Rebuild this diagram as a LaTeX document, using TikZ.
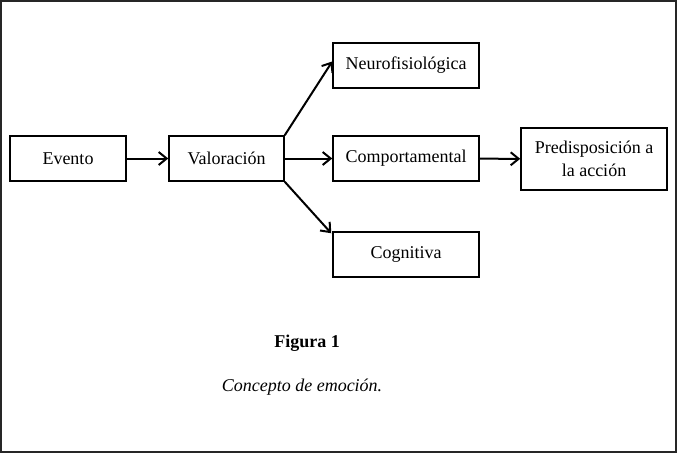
\documentclass[tikz,border=0pt]{standalone}
\usepackage{fontspec}
\setmainfont{Liberation Serif}
\usetikzlibrary{arrows.meta}

\tikzset{
  caja/.style={draw, line width=1.5pt, minimum height=45pt, inner sep=2pt},
  flecha/.style={line width=2pt, -{Straight Barb[length=8pt,width=13pt]}}
}

\begin{document}
\begin{tikzpicture}[x=1pt, y=-1pt, font=\fontsize{18}{23}\selectfont]

  % Marco exterior
  \useasboundingbox (0,0) rectangle (677,453);
  \draw[line width=1.5pt, black!85] (1,1) rectangle (676,452);

  % --- Cajas ---
  \node[caja, minimum width=116pt] (evento) at (68,158.5) {Evento};
  \node[caja, minimum width=115pt] (valor) at (226.5,158.5) {Valoración};
  \node[caja, minimum width=146pt] (neuro) at (406,65.5) {Neurofisiológica};
  \node[caja, minimum width=146pt] (comport) at (406,158.5) {Comportamental};
  \node[caja, minimum width=146pt] (cogn) at (406,254.5) {Cognitiva};
  \node[caja, minimum width=146pt, minimum height=62pt, align=center]
    (predis) at (594,159) {Predisposición a\\la acción};

  % --- Flechas ---
  \draw[flecha] (evento) -- (valor);
  \draw[flecha] (valor) -- (comport);
  \draw[flecha] (valor.north east) -- ([yshift=4pt]neuro.west);
  \draw[flecha] (valor.south east) -- ([shift={(-1pt,-2pt)}]cogn.north west);
  \draw[flecha] (comport) -- (predis);

  % --- Leyenda ---
  \node[font=\fontsize{18}{21}\selectfont\bfseries] (figura) at (307,343) {Figura 1};
  \node[font=\fontsize{18}{21}\selectfont\itshape] (titulo) at (302,387) {Concepto de emoción.};

\end{tikzpicture}
\end{document}
